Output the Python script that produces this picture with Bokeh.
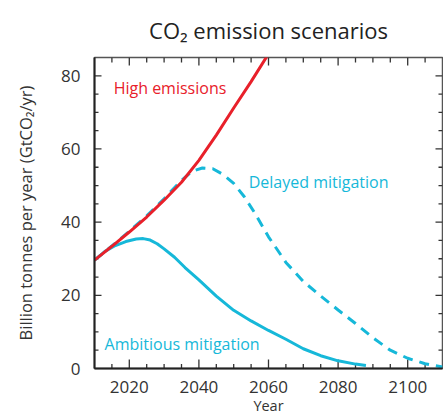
from bokeh.plotting import figure
from bokeh.models import Range1d, SingleIntervalTicker, Label
from bokeh.embed import file_html
from bokeh.resources import INLINE

# ---- data ----
high_years = [2010, 2015, 2020, 2025, 2030, 2035, 2040, 2045, 2050, 2055, 2060, 2062]
high_vals = [29.6, 33.4, 37.3, 41.4, 46.0, 50.9, 56.9, 63.8, 71.2, 78.4, 86.0, 89.5]

amb_years = [2010, 2013, 2016, 2019, 2022, 2024, 2026, 2028, 2030, 2033, 2036, 2040, 2045,
             2050, 2055, 2060, 2065, 2070, 2075, 2080, 2085, 2088]
amb_vals = [29.6, 32.0, 33.6, 34.7, 35.4, 35.5, 35.1, 34.1, 32.7, 30.4, 27.6, 24.2, 19.8,
            15.9, 13.0, 10.4, 8.0, 5.4, 3.5, 2.1, 1.2, 0.8]

del_years = [2010, 2015, 2020, 2025, 2030, 2035, 2038, 2041, 2044, 2047, 2050, 2053,
             2056, 2060, 2065, 2070, 2075, 2080, 2085, 2090, 2095, 2100, 2105, 2110]
del_vals = [29.6, 33.5, 37.5, 41.7, 46.4, 51.4, 53.9, 54.8, 54.6, 53.0, 50.6, 47.0,
            42.6, 36.0, 29.0, 23.8, 19.8, 16.0, 12.3, 8.4, 5.0, 2.8, 1.3, 0.4]

x_major, x_minor = 20, 5
y_major, y_minor = 20, 5
x_lo, x_hi = 2010, 2110
y_lo, y_hi = 0, 85

RED = "#e8202a"
CYAN = "#16b8d9"
FONT = "Open Sans"
TICK = "#333333"
FW, FH = 348, 311

p = figure(frame_width=FW, frame_height=FH, output_backend="svg", toolbar_location=None,
           x_range=Range1d(x_lo, x_hi), y_range=Range1d(y_lo, y_hi),
           min_border_left=94, min_border_top=57, min_border_right=1, min_border_bottom=30,
           x_axis_label="Year", y_axis_label="Billion tonnes per year (GtCO₂/yr)")

p.title.text = "CO₂ emission scenarios"
p.title.align = "center"
p.title.text_font = FONT
p.title.text_font_size = "22px"
p.title.text_font_style = "normal"
p.title.text_color = "#222222"
p.title.offset = 0
p.title.standoff = 25

p.grid.visible = False
p.outline_line_color = "#555555"
p.outline_line_width = 1.5
p.outline_line_alpha = 1.0
p.background_fill_color = "white"
p.border_fill_color = "white"

p.xaxis.ticker = SingleIntervalTicker(interval=x_major, num_minor_ticks=4)
p.yaxis.ticker = SingleIntervalTicker(interval=y_major, num_minor_ticks=4)

for ax in p.xaxis + p.yaxis:
    ax.major_tick_in = 0
    ax.major_tick_out = 0
    ax.minor_tick_in = 0
    ax.minor_tick_out = 0
    ax.axis_line_color = "#222222"
    ax.axis_line_width = 2
    ax.major_label_text_font = FONT
    ax.major_label_text_font_size = "17px"
    ax.major_label_text_color = "#333333"
    ax.axis_label_text_font = FONT
    ax.axis_label_text_font_style = "normal"
    ax.axis_label_text_color = "#333333"

p.xaxis.major_label_standoff = 12
p.xaxis.axis_label_standoff = 0
p.xaxis.axis_label_text_font_size = "14.5px"
p.yaxis.major_label_standoff = 14
p.yaxis.axis_label_standoff = 21
p.yaxis.axis_label_text_font_size = "16.5px"

# inward tick marks on all four sides
ux = (x_hi - x_lo) / FW   # data units per pixel
uy = (y_hi - y_lo) / FH
xt_major = list(range(x_lo + 10, x_hi, x_major))
xt_minor = [t for t in range(x_lo + x_minor, x_hi, x_minor) if t not in xt_major]
yt_major = list(range(y_lo + y_major, y_hi, y_major))
yt_minor = [t for t in range(y_lo + y_minor, y_hi, y_minor) if t not in yt_major]

def vticks(xs, y0, y1):
    p.segment(x0=xs, y0=[y0] * len(xs), x1=xs, y1=[y1] * len(xs),
              line_color=TICK, line_width=1.3)

def hticks(ys, x0, x1):
    p.segment(x0=[x0] * len(ys), y0=ys, x1=[x1] * len(ys), y1=ys,
              line_color=TICK, line_width=1.3)

vticks(xt_major, y_lo, y_lo + 9 * uy)
vticks(xt_minor, y_lo, y_lo + 4.5 * uy)
vticks(xt_major, y_hi - 8 * uy, y_hi)
vticks(xt_minor, y_hi - 5 * uy, y_hi)
hticks(yt_major, x_lo, x_lo + 7 * ux)
hticks(yt_minor, x_lo, x_lo + 4 * ux)
hticks(yt_major, x_hi - 7 * ux, x_hi)
hticks(yt_minor, x_hi - 4 * ux, x_hi)

p.line(del_years, del_vals, line_color=CYAN, line_width=3, line_dash="10 7")
p.line(amb_years, amb_vals, line_color=CYAN, line_width=3)
p.line(high_years, high_vals, line_color=RED, line_width=3)

for txt, x, y, c in [("High emissions", 2015.5, 76.7, RED),
                     ("Delayed mitigation", 2054.3, 50.9, CYAN),
                     ("Ambitious mitigation", 2012.9, 6.7, CYAN)]:
    p.add_layout(Label(x=x, y=y, text=txt, text_color=c, text_font=FONT,
                       text_font_size="16px", text_baseline="middle", text_align="left"))

open("out.html", "w").write(file_html(p, INLINE))
